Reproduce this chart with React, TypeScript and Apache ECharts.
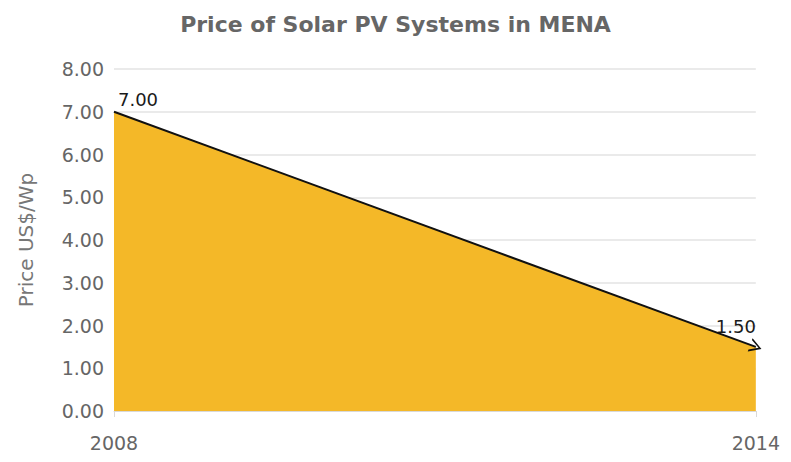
import React, { useEffect, useRef } from "react";
import * as echarts from "echarts";

const title = "Price of Solar PV Systems in MENA";
const yAxisName = "Price US$/Wp";
const years = [2008, 2014];
const prices = [7.0, 1.5];
const yTicks = [0, 1, 2, 3, 4, 5, 6, 7, 8];

export default function App() {
  const ref = useRef<HTMLDivElement>(null);
  useEffect(() => {
    if (!ref.current) return;
    const chart = echarts.init(ref.current, null, { renderer: "svg" });
    const font = "DejaVu Sans";
    const data = years.map((y, i) => ({
      value: [y, prices[i]],
      label: {
        show: true,
        position: "top",
        offset: i === 0 ? [24, 2] : [-20, -6],
        formatter: (p: any) => p.value[1].toFixed(2),
        color: "#1a1a1a",
        fontSize: 18,
        fontFamily: font,
      },
    }));
    chart.setOption({
      animation: false,
      backgroundColor: "#ffffff",
      title: {
        text: title,
        left: "center",
        top: 0,
        textStyle: { color: "#666666", fontSize: 22, fontWeight: "bold", fontFamily: font },
      },
      grid: { left: 102, right: 18, top: 61, bottom: 43, containLabel: false },
      xAxis: {
        type: "value",
        min: years[0],
        max: years[years.length - 1],
        axisLine: { show: true, lineStyle: { color: "#d9d9d9", width: 1 } },
        axisTick: { show: true, customValues: years, length: 6, lineStyle: { color: "#d9d9d9" } },
        axisLabel: {
          customValues: years,
          color: "#666666",
          fontSize: 19,
          fontFamily: font,
          margin: 22,
          formatter: (v: number) => String(v),
        },
        splitLine: { show: false },
      },
      yAxis: {
        type: "value",
        min: yTicks[0],
        max: yTicks[yTicks.length - 1],
        interval: 1,
        name: yAxisName,
        nameLocation: "middle",
        nameGap: 78,
        nameTextStyle: { color: "#777777", fontSize: 20, fontFamily: font },
        axisLine: { show: false },
        axisTick: { show: false },
        axisLabel: {
          color: "#666666",
          fontSize: 19,
          fontFamily: font,
          margin: 10,
          formatter: (v: number) => v.toFixed(2),
        },
        splitLine: { show: true, lineStyle: { color: "#e3e3e3", width: 1.5 } },
      },
      series: [
        {
          type: "line",
          data,
          symbol: "circle",
          symbolSize: 1,
          showSymbol: true,
          itemStyle: { color: "rgba(0,0,0,0)" },
          lineStyle: { width: 0, color: "rgba(0,0,0,0)" },
          areaStyle: { color: "#F4B828", opacity: 1 },
          markLine: {
            silent: true,
            symbol: ["none", "path://M0,10 L5,0 L10,10 L8.6,10 L5,2.6 L1.4,10 Z"],
            symbolSize: [14, 12],
            label: { show: false },
            lineStyle: { color: "#111111", width: 2, type: "solid" },
            data: [
              [
                { coord: [years[0], prices[0]] },
                { coord: [years[1], prices[1]] },
              ],
            ],
          },
        },
      ],
    });
    return () => chart.dispose();
  }, []);
  return <div ref={ref} style={{ width: 775, height: 446 }} />;
}
